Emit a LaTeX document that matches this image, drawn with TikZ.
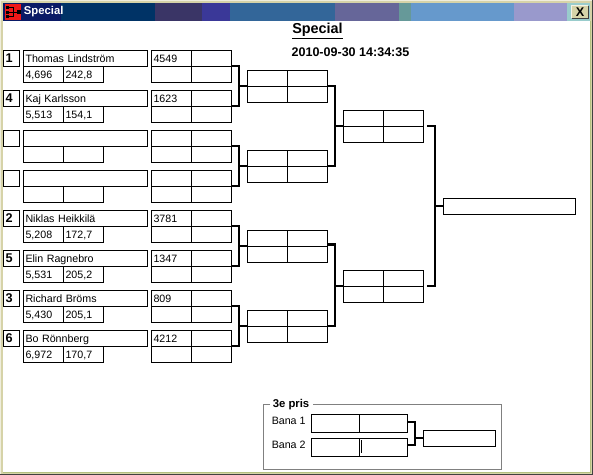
\documentclass[tikz,border=0pt]{standalone}
\usepackage{fontspec}
\setmainfont{Liberation Sans}
\usetikzlibrary{calc}
\definecolor{mFrame}{HTML}{D6D3A8}
\definecolor{mEdge}{HTML}{B4C080}
\definecolor{mNavy}{HTML}{0A1A66}
\definecolor{mIcon}{HTML}{F01818}
\begin{document}
\begin{tikzpicture}[x=0.75pt, y=-0.75pt,
    cell/.style={draw, line width=0.75pt, anchor=north west, outer sep=0pt, inner xsep=1.5pt, inner ysep=0pt,
      minimum height=12pt, text depth=0pt, font=\fontsize{8}{8}\selectfont, align=left},
    smallcell/.style={cell, text width=27pt},
    namecell/.style={cell, text width=90pt},
    seedcell/.style={cell, text width=9pt, font=\fontsize{9.5}{9.5}\selectfont\bfseries},
    longcell/.style={cell, text width=96pt},
    pricecell/.style={cell, minimum height=13.5pt, text width=33pt},
    joint/.style={line width=1.75pt, transform canvas={xshift=-0.375pt, yshift=0.375pt}}]
    % window
    \fill[mFrame] (0,0) rectangle (593,475);
    \fill[white!60!mFrame] (0,0) rectangle (1,475);
    \fill[white!60!mFrame] (0,0) rectangle (593,1);
    \fill[white] (3,21) rectangle (590,471.5);
    \fill[mEdge] (3,471.5) rectangle (591,472.5);
    \fill[mEdge] (590,21) rectangle (591,472.5);
    \fill[black!75] (0,473.5) rectangle (593,475);
    \fill[black!75] (591.5,0) rectangle (593,475);
    \fill[mNavy] (3,3) rectangle (61,21);
    \foreach \xa/\xb/\hc in {61/155/003366, 155/202/3A3566, 202/230/3A3898, 230/335/336699,
       335/399/666699, 399/411/669999, 411/514/6699CC, 514/567/9999CC, 567/590/99CCCC} {
      \definecolor{mBar}{HTML}{\hc}
      \fill[mBar] (\xa,3) rectangle (\xb,21);
    }
    % icon
    \fill[mIcon] (5,4) rectangle (21,20);
    \draw[line width=0.75pt] (8,7) -- (13,7) -- (13,16.5) -- (8,16.5) (8,12) -- (17,12);
    \foreach \yy in {5.5, 10.5, 15} { \fill (6,\yy) rectangle +(3,3); }
    \fill (17,10) rectangle (21,14);
    \node[anchor=west, text=white, inner sep=0pt, font=\fontsize{8.5}{8.5}\selectfont\bfseries] (title) at (23.5,12) {Special};
    \node[fill=mFrame, minimum width=12pt, minimum height=9pt, inner sep=0pt,
      font=\fontsize{9.5}{9.5}\selectfont\bfseries] (close) at (580,12) {X};
    \draw[white!70!mFrame, line width=0.75pt] (close.south west) -- (close.north west) -- (close.north east);
    \draw[black!75, line width=0.75pt] (close.north east) -- (close.south east) -- (close.south west);
    % heading
    \node[inner sep=0pt, font=\fontsize{10.8}{10.8}\selectfont\bfseries] (head) at (317.5,31) {\underline{Special}};
    \node[inner sep=0pt, font=\fontsize{9.4}{9.4}\selectfont\bfseries] (date) at (350.5,52.3) {2010-09-30 14:34:35};
    % players
    \foreach \i/\y/\seed/\name/\va/\vb/\nr in
      {1/50.5/1/Thomas Lindström/{4,696}/{242,8}/4549,
       2/90.5/4/Kaj Karlsson/{5,513}/{154,1}/1623,
       3/130.5///{}/{}/,
       4/170.5///{}/{}/,
       5/210.5/2/Niklas Heikkilä/{5,208}/{172,7}/3781,
       6/250.5/5/Elin Ragnebro/{5,531}/{205,2}/1347,
       7/290.5/3/Richard Bröms/{5,430}/{205,1}/809,
       8/330.5/6/Bo Rönnberg/{6,972}/{170,7}/4212} {
      \node[seedcell] (seed\i) at (3.5,\y) {\seed};
      \node[namecell] (name\i) at (23.5,\y) {\name};
      \node[smallcell] (va\i) at (23.5,\y+16) {\va};
      \node[smallcell] (vb\i) at (63.5,\y+16) {\vb};
      \node[smallcell] (ra\i) at (151.5,\y) {\nr};
      \node[smallcell] (rb\i) at (191.5,\y) {};
      \node[smallcell] (rc\i) at (151.5,\y+16) {};
      \node[smallcell] (rd\i) at (191.5,\y+16) {};
    }
    % second and third round
    \foreach \n/\xx/\y in {q1/247.5/70.5, q2/247.5/150.5, q3/247.5/230.5, q4/247.5/310.5,
       s1/343.5/110.5, s2/343.5/270.5} {
      \node[smallcell] (\n a) at (\xx,\y) {};
      \node[smallcell] (\n b) at (\xx+40,\y) {};
      \node[smallcell] (\n c) at (\xx,\y+16) {};
      \node[smallcell] (\n d) at (\xx+40,\y+16) {};
    }
    \node[longcell] (final) at (443.5,198.5) {};
    % brackets
    \foreach \t/\b/\n in {1/2/q1, 3/4/q2, 5/6/q3, 7/8/q4} {
      \coordinate (j\n) at ($(\n c.north west)+(-8,0)$);
      \draw[joint] (rb\t.south east) -| (j\n);
      \draw[joint] (rb\b.south east) -| (j\n);
      \draw[joint] (j\n) -- (\n c.north west);
    }
    \foreach \t/\b/\n/\off in {q1/q2/s1/0, q3/q4/s2/-1.5} {
      \coordinate (j\n) at ($(\n c.north west)+(-8,0)$);
      \draw[joint] ($(\t b.south east)+(0,\off)$) -| (j\n);
      \draw[joint] (\b b.south east) -| (j\n);
      \draw[joint] (j\n) -- (\n c.north west);
    }
    \coordinate (jfinal) at ($(final.west)+(-8,0)$);
    \draw[joint, shorten <=3pt] (s1b.south east) -| (jfinal);
    \draw[joint, shorten <=3pt] (s2b.south east) -| (jfinal);
    \draw[joint] (jfinal) -- (final.west);
    % third prize
    \draw[black!50, line width=0.75pt] (270,404.5) -| (263.5,469.5) -| (501,404.5) -- (313,404.5);
    \node[inner sep=0pt, anchor=west, font=\fontsize{8.5}{8.5}\selectfont\bfseries] (pris) at (272.5,404.5) {3e pris};
    \node[inner sep=0pt, anchor=west, font=\fontsize{8}{8}\selectfont] (bana1) at (271.5,421) {Bana 1};
    \node[inner sep=0pt, anchor=west, font=\fontsize{8}{8}\selectfont] (bana2) at (271.5,445) {Bana 2};
    \foreach \n/\y in {p1/414.5, p2/438.5} {
      \node[pricecell] (\n a) at (311.5,\y) {};
      \node[pricecell] (\n b) at (359.5,\y) {};
    }
    \node[cell, text width=51pt] (third) at (423.5,430.5) {};
    \coordinate (jthird) at ($(third.west)+(-8,0)$);
    \draw[joint] ($(p1b.east)+(0,-1)$) -| (jthird);
    \draw[joint] ($(p2b.east)+(0,-2)$) -| (jthird);
    \draw[joint] (jthird) -- (third.west);
    \draw[line width=0.75pt] (361.5,440) -- (361.5,453);
  \end{tikzpicture}
\end{document}
